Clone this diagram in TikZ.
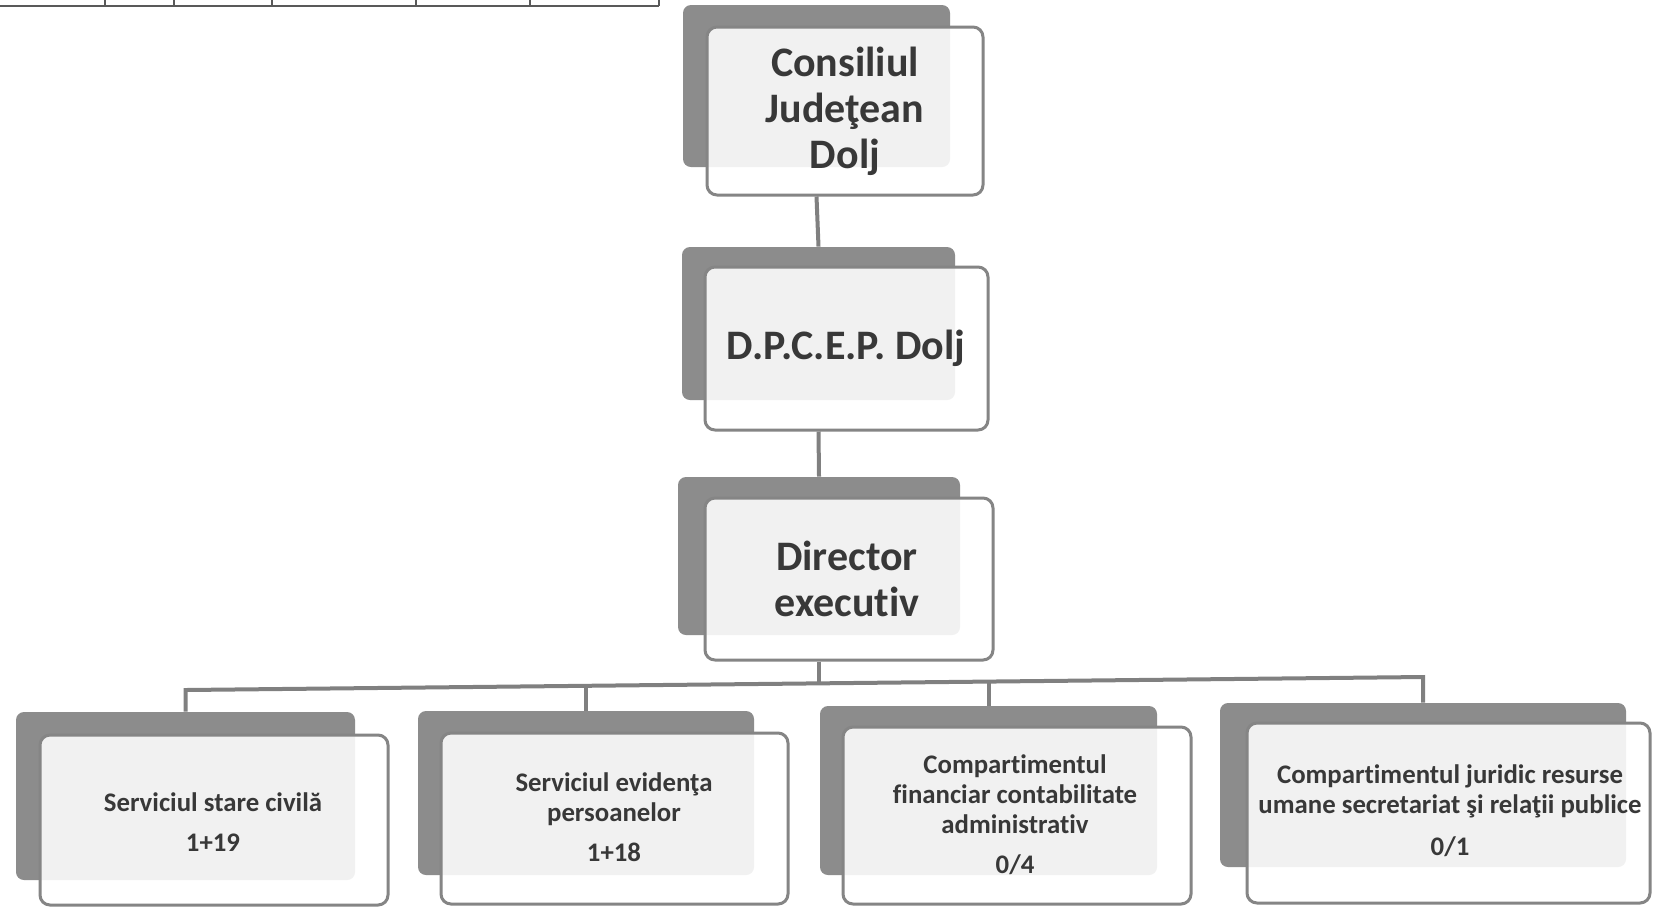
\documentclass[tikz,border=0pt]{standalone}
\usepackage{fontspec}
\setmainfont[Ligatures={NoCommon}]{Carlito}
\usetikzlibrary{fit}
\definecolor{shadowgray}{HTML}{8C8C8C}
\definecolor{edgegray}{HTML}{858585}
\definecolor{linegray}{HTML}{808080}
\definecolor{txtgray}{HTML}{383838}
\begin{document}
\begin{tikzpicture}[x=0.5pt,y=-0.5pt,
  shadowbox/.style={fill=shadowgray, draw=none, rounded corners=4pt, inner sep=0pt},
  frontbox/.style={fill=white, fill opacity=0.88, draw=edgegray, draw opacity=1, line width=1.5pt, rounded corners=5pt, inner sep=0pt},
  bigtext/.style={text=txtgray, font=\bfseries\fontsize{21}{23}\selectfont, align=center, inner sep=0pt},
  smalltext/.style={text=txtgray, font=\bfseries\fontsize{13.4}{15}\selectfont, align=center, inner sep=0pt},
  conn/.style={draw=linegray, line width=2pt},
  tbl/.style={draw=black!65, line width=0.6pt}]
\useasboundingbox (0,0) rectangle (1653,907);
\fill[white] (0,0) rectangle (1653,907);

% table fragment at top left
\draw[tbl] (0,6) -- (659,6);
\foreach \x in {105,174,272,416,530,659} \draw[tbl] (\x,0) -- (\x,6);

% top chain
\node[shadowbox, fit={(683,5)(950,167)}] (cjs) {};
\node[frontbox, fit={(707,27)(983,195)}] (cj) {};
\node[bigtext] (cjt) at (845,111) {Consiliul\\Judeţean\\Dolj};

\node[shadowbox, fit={(682,247)(955,400)}] (dps) {};
\node[frontbox, fit={(705,267)(988,430)}] (dp) {};
\node[bigtext] (dpt) at (846,348) {D.P.C.E.P. Dolj};

\node[shadowbox, fit={(678,477)(960,635)}] (des) {};
\node[frontbox, fit={(705,498)(993,660)}] (de) {};
\node[bigtext] (det) at (847,579) {Director\\executiv};

% bottom row
\node[shadowbox, fit={(16,712)(355,880)}] (b1s) {};
\node[frontbox, fit={(40,735)(388,905)}] (b1) {};
\node[smalltext] (b1t) at (213,822) {Serviciul stare civilă\\[5pt]1+19};

\node[shadowbox, fit={(418,711)(754,875)}] (b2s) {};
\node[frontbox, fit={(441,733)(788,904)}] (b2) {};
\node[smalltext] (b2t) at (614,817) {Serviciul evidenţa\\persoanelor\\[5pt]1+18};

\node[shadowbox, fit={(820,706)(1157,875)}] (b3s) {};
\node[frontbox, fit={(843,727)(1191,904)}] (b3) {};
\node[smalltext] (b3t) at (1015,815) {Compartimentul\\financiar contabilitate\\administrativ\\[5pt]0/4};

\node[shadowbox, fit={(1220,703)(1626,867)}] (b4s) {};
\node[frontbox, fit={(1247,723)(1650,903)}] (b4) {};
\node[smalltext] (b4t) at (1450,811) {Compartimentul juridic resurse\\umane secretariat şi relaţii publice\\[6pt]0/1};

% connectors
\draw[conn] (cjs.center |- cj.south) -- (dps.north);
\draw[conn] (dps.center |- dp.south) -- (des.north);
\coordinate (j1) at (185.5,690);
\coordinate (j2) at (586,685.8);
\coordinate (jd) at (819,683.3);
\coordinate (j3) at (988.5,681.6);
\coordinate (j4) at (1423,677);
\draw[conn] (des.center |- de.south) -- (jd);
\draw[conn] (b1s.north) -- (j1) -- (j4) -- (b4s.north);
\draw[conn] (j2) -- (b2s.north);
\draw[conn] (j3) -- (b3s.north);
\end{tikzpicture}
\end{document}
